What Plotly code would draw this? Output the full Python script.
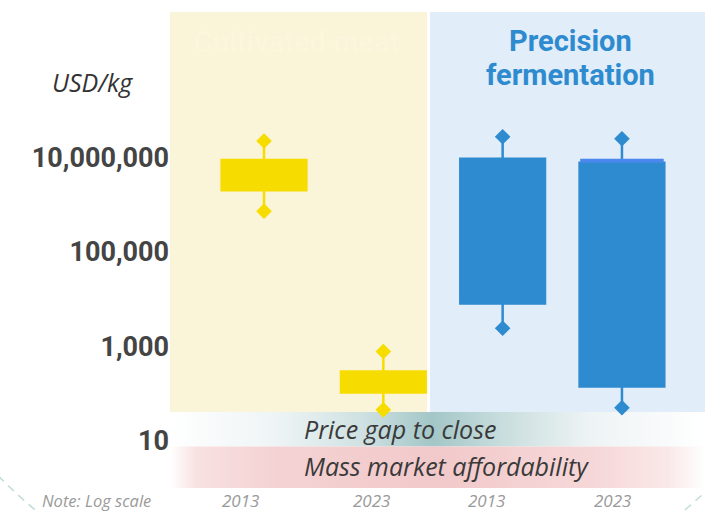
import plotly.graph_objects as go

# ---- data (USD per kg) ----
categories = ["Cultivated meat 2013", "Cultivated meat 2023",
              "Precision fermentation 2013", "Precision fermentation 2023"]
year_labels = ["2013", "2023", "2013", "2023"]
positions = [0, 1, 2, 3]
price_min = [720000, 45, 2400, 50]
price_q1 = [2000000, 105, 8000, 140]
price_q3 = [8700000, 290, 9200000, 7600000]
price_max = [22000000, 770, 27000000, 24500000]
pf_2023_cap = 8400000  # highlighted upper edge of the 2023 fermentation range
tick_vals = [10, 1000, 100000, 10000000]
tick_text = ["10", "1,000", "100,000", "10,000,000"]

YELLOW = "#f7dc00"
BLUE = "#2e8bcf"

W, H = 705, 513
ML, MR, MT, MB = 170, 0, 12, 25
PW, PH = W - ML - MR, H - MT - MB


def px(x):
    return (x - ML) / PW


def py(y):
    return (H - MB - y) / PH


fig = go.Figure()

# gradient bands (drawn on the hidden 0..1 base axes)
band_mid = py(446.5)
band_top = py(412)
fig.add_trace(go.Scatter(
    x=[0, 1, 1, 0, 0], y=[band_mid, band_mid, band_top, band_top, band_mid],
    mode="lines", line=dict(width=0), fill="toself", hoverinfo="skip",
    fillgradient=dict(type="horizontal", colorscale=[
        [0.0, "#ffffff"], [0.2, "#eef4f5"], [0.36, "#cfe1e2"],
        [0.49, "#a3c6c7"], [0.62, "#c8dddd"], [0.78, "#edf3f4"],
        [1.0, "#ffffff"]]),
    showlegend=False, xaxis="x", yaxis="y"))
fig.add_trace(go.Scatter(
    x=[0, 1, 1, 0, 0], y=[0, 0, band_mid, band_mid, 0],
    mode="lines", line=dict(width=0), fill="toself", hoverinfo="skip",
    fillgradient=dict(type="horizontal", colorscale=[
        [0.0, "#ffffff"], [0.05, "#f8e1e1"], [0.2, "#f4d2d3"],
        [0.5, "#f2c9ca"], [0.8, "#f6d8d9"], [0.93, "#fae8e8"],
        [1.0, "#ffffff"]]),
    showlegend=False, xaxis="x", yaxis="y"))

# price ranges
colors = [YELLOW, YELLOW, BLUE, BLUE]
for i in range(len(categories)):
    fig.add_trace(go.Box(
        x=[positions[i]], q1=[price_q1[i]], median=[price_q1[i]], q3=[price_q3[i]],
        lowerfence=[price_min[i]], upperfence=[price_max[i]],
        width=0.71, whiskerwidth=0, fillcolor=colors[i],
        line=dict(color=colors[i], width=2.5), name=categories[i],
        showlegend=False, hoverinfo="skip", xaxis="x2", yaxis="y2"))
    fig.add_trace(go.Scatter(
        x=[positions[i], positions[i]], y=[price_min[i], price_max[i]],
        mode="markers", marker=dict(symbol="diamond", size=12, color=colors[i]),
        showlegend=False, hoverinfo="skip", xaxis="x2", yaxis="y2"))

fig.add_trace(go.Scatter(
    x=[positions[3] - 0.35, positions[3] + 0.35], y=[pf_2023_cap, pf_2023_cap],
    mode="lines", line=dict(color="#4a88ee", width=4),
    showlegend=False, hoverinfo="skip", xaxis="x2", yaxis="y2"))

# category panels
shapes = [
    dict(type="rect", xref="paper", yref="paper", x0=px(170), x1=px(427),
         y0=band_top, y1=1, fillcolor="#faf5d8", line=dict(width=0), layer="below"),
    dict(type="rect", xref="paper", yref="paper", x0=px(430), x1=px(705),
         y0=band_top, y1=1, fillcolor="#e1edf9", line=dict(width=0), layer="below"),
    dict(type="circle", xref="paper", yref="paper",
         x0=px(360 - 506), x1=px(360 + 506), y0=py(122 + 506), y1=py(122 - 506),
         line=dict(color="#c3dada", width=1.5, dash="8px,6px")),
]

ann = []


def note(text, x, y, size, color, bold=False, italic=False, xanchor="center",
         family="Roboto"):
    t = f"<b>{text}</b>" if bold else text
    t = f"<i>{t}</i>" if italic else t
    ann.append(dict(text=t, x=px(x), y=py(y), xref="paper", yref="paper",
                    showarrow=False, xanchor=xanchor, yanchor="middle",
                    font=dict(family=family, size=size, color=color)))


note("Cultivated meat", 297, 42, 29, "#fbf6dc", bold=True)
note("Precision", 570, 41, 29, BLUE, bold=True)
note("fermentation", 570, 75, 29, BLUE, bold=True)
note("USD/kg", 92, 82, 25, "#333333", italic=True, family="Open Sans")
note("Price gap to close", 302, 429, 25, "#3a3a3a", italic=True, xanchor="left",
     family="Open Sans")
note("Mass market affordability", 302, 466, 25, "#3a3a3a", italic=True,
     xanchor="left", family="Open Sans")
note("Note: Log scale", 96, 501, 16.5, "#9a9a9a", italic=True, family="Open Sans")
for lab, xc in zip(year_labels, [240, 371, 486, 612]):
    note(lab, xc, 501, 17, "#9a9a9a", italic=True, family="Open Sans")

hidden = dict(visible=False, range=[0, 1], fixedrange=True)
fig.update_layout(
    width=W, height=H, margin=dict(l=ML, r=MR, t=MT, b=MB),
    paper_bgcolor="white", plot_bgcolor="rgba(0,0,0,0)",
    xaxis=hidden, yaxis=hidden,
    xaxis2=dict(overlaying="x", visible=False, range=[-0.788, 3.696]),
    yaxis2=dict(overlaying="y", side="left", type="log", range=[0, 10.07],
                tickvals=tick_vals, ticktext=tick_text, showgrid=False,
                zeroline=False, showline=False, ticks="", ticklen=0,
                tickfont=dict(family="Roboto", size=27, color="#444444",
                              weight="bold")),
    shapes=shapes, annotations=ann,
)

fig.write_html("out.html")
